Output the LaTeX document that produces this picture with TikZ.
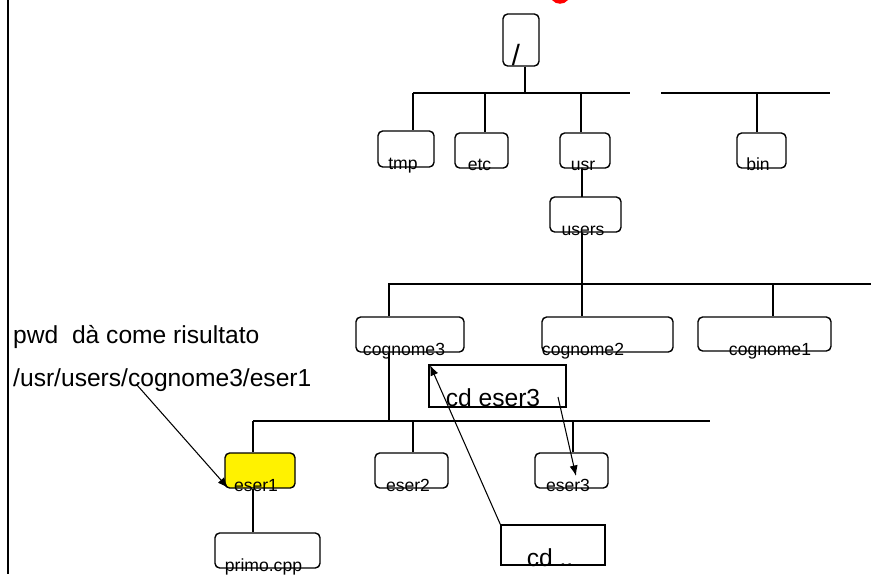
\documentclass[tikz,border=0pt]{standalone}
\usepackage{fontspec}
\setmainfont{Liberation Sans}
\usetikzlibrary{arrows.meta}

\tikzset{
	dirbox/.style={draw, rounded corners=4pt, line width=1.2pt, inner sep=0pt},
	cmdbox/.style={draw, line width=1.2pt, inner sep=0pt},
	wh/.style 2 args={minimum width=#1*0.03cm, minimum height=#2*0.03cm},
	dirname/.style={anchor=base, inner sep=0pt, font=\fontsize{15}{18}\selectfont},
	cmdtext/.style={anchor=base, inner sep=0pt, font=\fontsize{21}{25}\selectfont},
	branch/.style={line width=1.2pt},
	pointer/.style={line width=0.9pt, -{Latex[length=9pt,width=7pt]}}
}

\begin{document}
\begin{tikzpicture}[x=0.03cm, y=-0.03cm]
	\useasboundingbox (0,0) rectangle (871,574);
	%Margin line at the left
	\draw [line width=2.5pt] (8,0) -- (8,574);
	%Red title, cut off at the top
	\fill [red] (552,0) .. controls (556,5) and (564,5) .. (568,0) -- cycle;

	%Root directory
	\node [dirbox, wh={36}{52}] (root) at (521,40) {};
	\node [anchor=base, inner sep=0pt, font=\fontsize{25}{30}\selectfont] (root-l) at (516,65) {/};
	\coordinate (root-d) at (525,93);
	\draw [branch] (root-d |- root.south) -- (root-d);

	%First level
	\coordinate (lev1-w) at (413,93);
	\coordinate (lev1-e) at (630,93);
	\coordinate (bin-w) at (661,93);
	\coordinate (bin-e) at (830,93);
	\draw [branch] (lev1-w) -- (lev1-e);
	\draw [branch] (bin-w) -- (bin-e);
	\node [dirbox, wh={56}{36}] (tmp) at (406,149) {};
	\node [dirbox, wh={53}{35}] (etc) at (481.5,150.5) {};
	\node [dirbox, wh={50}{35}] (usr) at (585,150.5) {};
	\node [dirbox, wh={49}{35}] (bin) at (761.5,150.5) {};
	\coordinate (etc-d) at (485,93);
	\coordinate (usr-d) at (581,93);
	\coordinate (bin-d) at (757,93);
	\draw [branch] (lev1-w) -- (lev1-w |- tmp.north);
	\draw [branch] (etc-d) -- (etc-d |- etc.north);
	\draw [branch] (usr-d) -- (usr-d |- usr.north);
	\draw [branch] (bin-d) -- (bin-d |- bin.north);

	%users
	\node [dirbox, wh={71}{35}] (users) at (585.5,214.5) {};
	\coordinate (users-d) at (582,197);
	\draw [branch] (users-d |- usr.south) -- (users-d);

	%Home directories
	\coordinate (home-w) at (388,284);
	\coordinate (home-e) at (871,284);
	\draw [branch] (home-w) -- (home-e);
	\draw [branch] (users-d |- users.south) -- (users-d |- home-w);
	\node [dirbox, wh={108}{35}] (cog3) at (410,334.5) {};
	\node [dirbox, wh={131}{35}] (cog2) at (607.5,334.5) {};
	\node [dirbox, wh={133}{34}] (cog1) at (764.5,334) {};
	\coordinate (cog3-d) at (389,284);
	\coordinate (cog2-d) at (582,284);
	\coordinate (cog1-d) at (773,284);
	\draw [branch] (cog3-d) -- (cog3-d |- cog3.north);
	\draw [branch] (cog2-d) -- (cog2-d |- cog2.north);
	\draw [branch] (cog1-d) -- (cog1-d |- cog1.north);

	%Exercises of cognome3
	\coordinate (eser-w) at (253,421);
	\coordinate (eser-e) at (710,421);
	\draw [branch] (eser-w) -- (eser-e);
	\draw [branch] (cog3-d |- cog3.south) -- (cog3-d |- eser-w);
	\node [dirbox, fill=yellow, wh={70}{35}] (eser1) at (260,470.5) {};
	\node [dirbox, wh={73}{35}] (eser2) at (411.5,470.5) {};
	\node [dirbox, wh={73}{35}] (eser3) at (571.5,470.5) {};
	\coordinate (eser2-d) at (413,421);
	\coordinate (eser3-d) at (573,421);
	\draw [branch] (eser-w) -- (eser-w |- eser1.north);
	\draw [branch] (eser2-d) -- (eser2-d |- eser2.north);
	\draw [branch] (eser3-d) -- (eser3-d |- eser3.north);

	%File in eser1
	\node [dirbox, wh={105}{35}] (primo) at (267.5,550.5) {};
	\draw [branch] (eser-w |- eser1.south) -- (eser-w |- primo.north);

	%Names of the directories
	\node [dirname] (tmp-l) at (403,169) {tmp};
	\node [dirname] (etc-l) at (479.5,170.5) {etc};
	\node [dirname] (usr-l) at (583,170.5) {usr};
	\node [dirname] (bin-l) at (758,170.5) {bin};
	\node [dirname] (users-l) at (583,235) {users};
	\node [dirname] (cog3-l) at (404,355) {cognome3};
	\node [dirname] (cog2-l) at (583,355) {cognome2};
	\node [dirname] (cog1-l) at (770,355) {cognome1};
	\node [dirname] (eser1-l) at (256,491) {eser1};
	\node [dirname] (eser2-l) at (408,491) {eser2};
	\node [dirname] (eser3-l) at (568,491) {eser3};
	\node [dirname] (primo-l) at (263.5,571) {primo.cpp};

	%Commands
	\node [cmdbox, wh={137}{42}] (cdeser) at (497.5,386) {};
	\node [cmdtext] (cdeser-l) at (493,406) {cd eser3};
	\node [cmdbox, wh={104}{40}] (cdup) at (553,545) {};
	\node [cmdtext] (cdup-l) at (550,566) {cd ..};

	%Result of pwd
	\node [cmdtext, anchor=base west] (pwd) at (13,343) {pwd\ \ dà come risultato};
	\node [cmdtext, anchor=base west] (path) at (13,386) {/usr/users/cognome3/eser1};

	%Arrows
	\coordinate (path-p) at (137,385);
	\coordinate (eser1-p) at (228,488);
	\coordinate (cdeser-p) at (558,397);
	\coordinate (eser3-p) at (576,476);
	\coordinate (cog3-p) at (430,365);
	\draw [pointer] (path-p) -- (eser1-p);
	\draw [pointer] (cdeser-p) -- (eser3-p);
	\draw [pointer] (cdup.north west) -- (cog3-p);
\end{tikzpicture}
\end{document}
